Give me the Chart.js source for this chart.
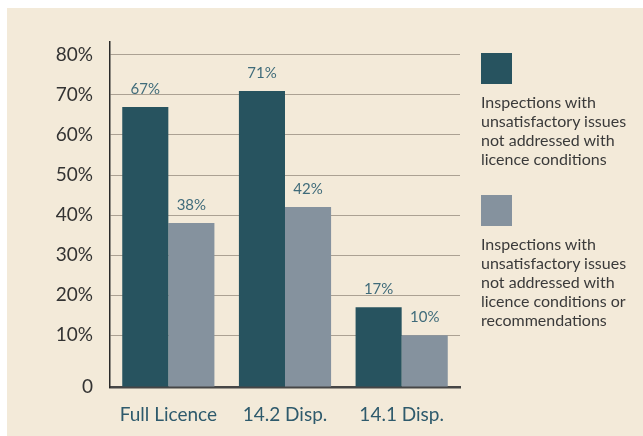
<!DOCTYPE html>
<html>
<head>
<meta charset="utf-8">
<script src="https://cdn.jsdelivr.net/npm/chart.js@4"></script>
<style>
  html, body { margin: 0; padding: 0; background: #ffffff; }
  body { width: 643px; height: 436px; position: relative; overflow: hidden; font-family: Lato, "Open Sans", sans-serif; }
  #panel { position: absolute; left: 7px; top: 8px; right: 0; bottom: 0; background: #f3ead9; }
  #chart { position: absolute; left: 0; top: 0; }
  #legend { position: absolute; left: 481px; top: 53px; }
  .legend-item { margin-bottom: 27px; }
  .legend-box { width: 31px; height: 31px; }
  .legend-text { margin-top: 8px; font-size: 16px; line-height: 19px; color: #3a3a3a; white-space: nowrap; }
</style>
</head>
<body>
<div id="panel"></div>
<canvas id="chart" width="643" height="436"></canvas>
<div id="legend"></div>
<script>
// datos
const categorias = ["Full Licence", "14.2 Disp.", "14.1 Disp."];
const sinCondiciones = [67, 71, 17];
const sinCondicionesNiRecom = [38, 42, 10];
const yTicks = [0, 10, 20, 30, 40, 50, 60, 70, 80];
const yTickLabels = ["0", "10%", "20%", "30%", "40%", "50%", "60%", "70%", "80%"];
const seriesLineas = [
  ["Inspections with", "unsatisfactory issues", "not addressed with", "licence conditions"],
  ["Inspections with", "unsatisfactory issues", "not addressed with", "licence conditions or", "recommendations"]
];
const colores = ["#27535f", "#85929e"];

// el piso del eje queda un poco debajo del 0
const pisoEje = -2.9;
const techoEje = 83.2;

const valoresPlugin = {
  id: "valores",
  afterDatasetsDraw(chart) {
    const { ctx } = chart;
    ctx.save();
    ctx.font = "15px Lato";
    ctx.fillStyle = "#3f6b7a";
    ctx.textAlign = "center";
    ctx.textBaseline = "middle";
    chart.data.datasets.forEach((ds, i) => {
      const meta = chart.getDatasetMeta(i);
      meta.data.forEach((bar, j) => {
        ctx.fillText(ds.data[j] + "%", bar.x, bar.y - 18);
      });
    });
    ctx.restore();
  }
};

const ctx = document.getElementById("chart").getContext("2d");
const chart = new Chart(ctx, {
  type: "bar",
  data: {
    labels: categorias,
    datasets: [
      { label: seriesLineas[0].join(" "), data: sinCondiciones, backgroundColor: colores[0], base: pisoEje },
      { label: seriesLineas[1].join(" "), data: sinCondicionesNiRecom, backgroundColor: colores[1], base: pisoEje }
    ]
  },
  options: {
    responsive: false,
    animation: false,
    layout: { padding: { left: 0, top: 42, right: 183, bottom: 0 } },
    datasets: { bar: { barPercentage: 1, categoryPercentage: 0.79 } },
    plugins: { legend: { display: false }, tooltip: { enabled: false } },
    scales: {
      x: {
        afterFit: s => { s.height = 49; },
        grid: { display: false, drawTicks: false },
        border: { display: true, color: "#464646", width: 2.5 },
        ticks: { color: "#2e5a6c", font: { family: "Lato", size: 19 }, padding: 16 }
      },
      y: {
        min: pisoEje,
        max: techoEje,
        afterFit: s => { s.width = 110; },
        afterBuildTicks: s => {
          s.ticks = yTicks.map(v => ({ value: v === 0 ? pisoEje : v }));
        },
        grid: {
          drawTicks: false,
          color: c => (c.tick && c.tick.value > 0 ? "#aba193" : "rgba(0,0,0,0)"),
          lineWidth: 1
        },
        border: { display: true, color: "#2a2a2a", width: 1.5 },
        ticks: {
          color: "#333333",
          font: { family: "Lato", size: 19 },
          padding: 17,
          callback: (v, i) => yTickLabels[i]
        }
      }
    }
  },
  plugins: [valoresPlugin]
});

// leyenda armada a mano, a la derecha
const legendEl = document.getElementById("legend");
chart.data.datasets.forEach((ds, i) => {
  const item = document.createElement("div");
  item.className = "legend-item";
  item.innerHTML = `<div class="legend-box" style="background:${ds.backgroundColor}"></div>` +
    `<div class="legend-text">${seriesLineas[i].join("<br>")}</div>`;
  legendEl.appendChild(item);
});
</script>
</body>
</html>
